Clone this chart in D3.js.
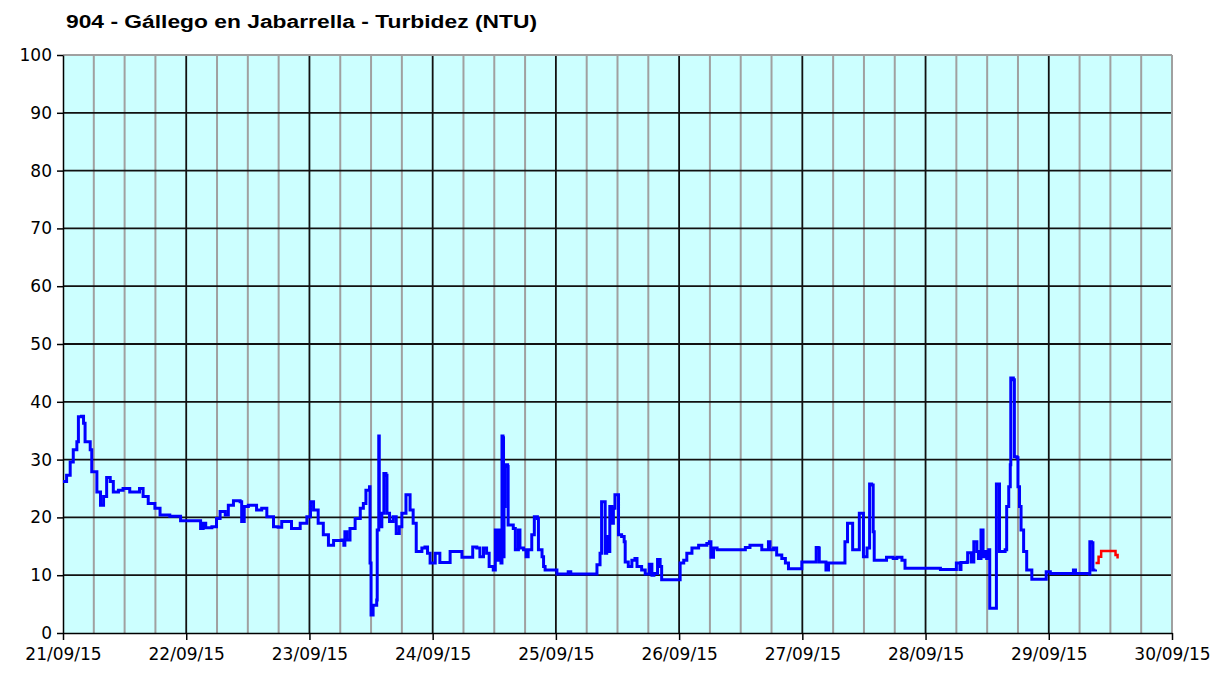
<!DOCTYPE html>
<html>
<head>
<meta charset="utf-8">
<script src="https://cdn.jsdelivr.net/npm/d3@7"></script>
<style>
  body { margin: 0; background: #fff; }
  .axis text { font-family: "DejaVu Sans", Verdana, sans-serif; font-size: 17px; fill: #000; }
  .axis path, .axis line { stroke: #000; stroke-width: 1.5; }
</style>
</head>
<body>
<div class="canvas"></div>
<script>
// chart data (hours since 21/09/15 00:00, turbidity NTU)
const title = '904 - Gállego en Jabarrella - Turbidez (NTU)';
const dayLabels = ['21/09/15', '22/09/15', '23/09/15', '24/09/15', '25/09/15',
                   '26/09/15', '27/09/15', '28/09/15', '29/09/15', '30/09/15'];
const yTicks = [0, 10, 20, 30, 40, 50, 60, 70, 80, 90, 100];

const blueHours = [
  0, 0.7, 1.4, 2.0, 2.7, 3.0, 3.6, 4.0, 4.3, 5.3, 5.6, 6.6, 7.3, 7.9, 8.5, 9.2, 9.8, 10.8, 11.7, 13.0,
  14.9, 15.6, 16.6, 17.9, 18.9, 20.8, 22.7, 22.9, 26.4, 26.8, 27.3, 27.8, 29.0, 29.9, 30.6, 31.6, 32.2, 33.2, 34.5, 34.8,
  35.3, 36.1, 37.1, 37.7, 38.7, 39.7, 41.0, 41.9, 42.6, 44.2, 44.5, 45.8, 46.2, 47.5, 48.2, 48.8, 49.7, 50.7, 51.7, 52.7,
  54.3, 54.7, 54.9, 55.3, 55.9, 56.9, 57.9, 58.5, 59.0, 59.7, 59.8, 60.0, 60.4, 61.1, 61.2, 61.5, 61.6, 62.1, 62.5, 62.9,
  63.1, 63.6, 64.3, 64.9, 65.5, 66.0, 66.8, 67.6, 68.2, 68.8, 69.9, 70.5, 71.0, 71.5, 72.5, 73.4, 74.7, 75.4, 77.3, 77.7,
  79.3, 79.8, 80.6, 81.2, 81.9, 82.5, 83.0, 83.8, 84.2, 84.6, 85.0, 85.3, 85.5, 85.7, 85.8, 85.9, 86.1, 86.6, 86.7, 87.7,
  88.1, 88.7, 89.0, 89.7, 90.2, 90.6, 91.3, 91.8, 92.4, 92.6, 93.3, 93.6, 93.9, 95.9, 96.2, 98.1, 98.4, 98.9, 103.6, 104.0,
  104.6, 104.9, 105.4, 105.6, 105.9, 106.2, 106.5, 106.9, 107.2, 107.5, 108.0, 108.2, 108.8, 109.3, 109.5, 110.1, 110.8, 111.4, 111.8, 112.7,
  113.4, 114.2, 114.7, 115.1, 115.8, 116.3, 116.6, 119.9, 120.2, 120.9, 121.5, 122.5, 123.8, 125.4, 125.9, 126.2, 126.7, 127.4, 132.5, 132.9,
  133.8, 135.8, 136.1, 137.1, 137.4, 137.7, 138.4, 139.0, 140.0, 140.7, 141.3, 143.6, 143.9, 146.5, 146.7, 147.1, 147.3, 148.3, 148.6, 149.1,
  152.0, 152.3, 152.8, 153.6, 153.8, 154.7, 155.1, 155.6, 155.9, 156.6, 157.1, 157.5, 157.8, 158.0, 159.8, 160.4, 161.7, 162.4, 163.4, 164.0,
  170.9, 173.5, 174.0, 174.7, 174.9, 176.1, 176.2, 176.9, 177.4, 178.0, 178.3, 178.8, 179.2, 179.6, 179.9, 180.3, 180.5, 181.6, 181.8, 182.2,
  182.4, 183.5, 183.8, 184.2, 184.5, 184.6, 185.1, 185.3, 185.8, 186.0, 186.3, 186.6, 187.1, 187.7, 188.7, 191.0, 191.5, 192.3, 196.5, 196.8,
  197.2, 199.9, 200.0, 200.3, 200.6, 201.1
];
const blueNTU = [
  26.2, 27.3, 29.6, 31.7, 33.1, 37.4, 37.5, 36.3, 33.1, 31.7, 27.9, 24.4, 22.1, 23.6, 26.9, 26.2, 24.4, 24.7, 25.0, 24.4,
  25.0, 23.6, 22.4, 21.6, 20.4, 20.2, 20.2, 19.4, 19.4, 18.1, 19.0, 18.2, 18.4, 19.8, 21.0, 20.4, 22.1, 22.9, 22.7, 19.3,
  21.9, 22.1, 22.1, 21.3, 21.6, 20.1, 18.4, 18.3, 19.3, 19.3, 18.1, 18.1, 19.0, 20.1, 22.7, 21.3, 19.0, 17.0, 15.2, 16.0,
  16.1, 15.2, 17.5, 16.1, 18.1, 19.8, 21.6, 22.4, 24.7, 25.3, 12.1, 3.1, 4.8, 5.7, 17.8, 34.1, 18.4, 20.7, 27.6, 27.3,
  20.7, 19.3, 20.1, 17.2, 18.4, 20.7, 23.9, 21.3, 19.0, 14.1, 14.7, 14.9, 13.8, 12.1, 13.8, 12.2, 12.2, 14.1, 14.1, 13.1,
  13.1, 14.9, 14.7, 13.2, 14.7, 13.8, 11.5, 10.9, 17.8, 12.6, 17.8, 12.1, 34.1, 33.8, 13.2, 21.9, 29.1, 28.8, 18.7, 18.1,
  14.4, 17.8, 14.7, 14.4, 13.2, 14.4, 17.0, 20.1, 19.8, 14.4, 13.2, 11.5, 10.9, 10.9, 10.2, 10.2, 10.6, 10.2, 10.2, 11.8,
  13.8, 22.7, 22.7, 13.8, 16.7, 14.1, 21.9, 19.0, 21.6, 23.9, 23.9, 17.0, 16.7, 15.8, 12.3, 11.5, 12.6, 12.9, 11.5, 10.9,
  10.2, 11.9, 10.0, 10.3, 12.7, 11.5, 9.2, 9.2, 12.1, 12.6, 13.8, 14.7, 15.2, 15.5, 15.8, 13.1, 14.7, 14.4, 14.4, 14.8,
  15.2, 15.2, 14.4, 14.4, 15.8, 14.4, 14.7, 13.5, 12.9, 12.1, 11.1, 11.1, 12.3, 12.3, 14.8, 14.7, 12.3, 12.3, 10.9, 12.1,
  12.1, 15.8, 19.0, 19.0, 14.4, 14.4, 20.7, 20.7, 13.2, 14.7, 25.8, 25.6, 17.5, 12.6, 12.6, 13.1, 12.9, 13.1, 12.6, 11.2,
  11.0, 11.0, 12.1, 11.0, 12.2, 12.3, 13.9, 12.3, 15.8, 14.1, 12.9, 17.8, 13.2, 14.1, 12.9, 14.4, 4.3, 4.3, 25.8, 25.8,
  14.1, 14.4, 21.9, 25.3, 29.1, 44.1, 43.8, 30.5, 30.3, 25.3, 21.9, 17.8, 14.1, 10.9, 9.3, 9.3, 10.6, 10.3, 10.3, 10.9,
  10.3, 10.2, 15.8, 15.6, 10.9, 11.0
];
const redHours = [201.1, 201.7, 202.2, 204.7, 205.0, 205.4];
const redNTU = [12.1, 13.2, 14.2, 14.2, 13.5, 12.9];

const width = 1232, height = 673;
const margin = {top: 55, right: 60, bottom: 40, left: 63};
const plotW = 1172 - margin.left;
const plotH = 633 - margin.top;

const svg = d3.select('.canvas').append('svg')
  .attr('width', width)
  .attr('height', height)
  .style('display', 'block');

svg.append('rect').attr('width', width).attr('height', height).attr('fill', '#fff');

const graph = svg.append('g').attr('transform', `translate(${margin.left}, ${margin.top})`);

const x = d3.scaleLinear().domain([0, 216]).range([0, plotW]);
const y = d3.scaleLinear().domain([0, 100]).range([plotH, 0]);

// plot background
graph.append('rect')
  .attr('width', plotW).attr('height', plotH)
  .attr('fill', '#ccffff');

// vertical grid: 6h gray, daily black
const sixHours = d3.range(6, 216, 6).filter(h => h % 24 !== 0);
graph.append('g').selectAll('line').data(sixHours).enter().append('line')
  .attr('x1', d => x(d)).attr('x2', d => x(d))
  .attr('y1', 0).attr('y2', plotH)
  .attr('stroke', '#a0a0a0').attr('stroke-width', 2);

const days = d3.range(0, 217, 24);
graph.append('g').selectAll('line').data(days.slice(1, -1)).enter().append('line')
  .attr('x1', d => x(d)).attr('x2', d => x(d))
  .attr('y1', 0).attr('y2', plotH)
  .attr('stroke', '#111').attr('stroke-width', 1.8);

// horizontal grid
graph.append('g').selectAll('line').data(yTicks.slice(1, -1)).enter().append('line')
  .attr('x1', 0).attr('x2', plotW)
  .attr('y1', d => y(d)).attr('y2', d => y(d))
  .attr('stroke', '#111').attr('stroke-width', 1.8);

// top and right border
graph.append('line').attr('x1', 0).attr('x2', plotW).attr('y1', 0).attr('y2', 0)
  .attr('stroke', '#a0a0a0').attr('stroke-width', 2);
graph.append('line').attr('x1', plotW).attr('x2', plotW).attr('y1', 0).attr('y2', plotH)
  .attr('stroke', '#a0a0a0').attr('stroke-width', 2);

// axes
const yAxis = d3.axisLeft(y).tickValues(yTicks).tickSize(6).tickPadding(5).tickSizeOuter(0);
const yAxisGroup = graph.append('g').attr('class', 'axis').call(yAxis);
yAxisGroup.select('.domain').attr('stroke-width', 2);
yAxisGroup.selectAll('text').attr('font-size', 18);

const xAxis = d3.axisBottom(x).tickValues(days).tickSize(7).tickPadding(8).tickSizeOuter(0)
  .tickFormat((d, i) => dayLabels[i]);
const xAxisGroup = graph.append('g').attr('class', 'axis')
  .attr('transform', `translate(0, ${plotH})`).call(xAxis);
xAxisGroup.select('.domain').attr('stroke-width', 2);

// series (staircase, like the logger output)
const line = d3.line()
  .curve(d3.curveStepAfter)
  .x(d => x(d[0]))
  .y(d => y(d[1]));

graph.append('path')
  .datum(blueHours.map((h, i) => [h, blueNTU[i]]))
  .attr('fill', 'none')
  .attr('stroke', '#0000ff')
  .attr('stroke-width', 3)
  .attr('d', line);

graph.append('path')
  .datum(redHours.map((h, i) => [h, redNTU[i]]))
  .attr('fill', 'none')
  .attr('stroke', '#ff0000')
  .attr('stroke-width', 2.5)
  .attr('d', line);

// title
svg.append('text')
  .attr('x', 66).attr('y', 28)
  .attr('font-family', 'Arial, "Liberation Sans", sans-serif')
  .attr('font-weight', 'bold')
  .attr('font-size', 18)
  .attr('textLength', 471)
  .attr('lengthAdjust', 'spacingAndGlyphs')
  .text(title);
</script>
</body>
</html>
